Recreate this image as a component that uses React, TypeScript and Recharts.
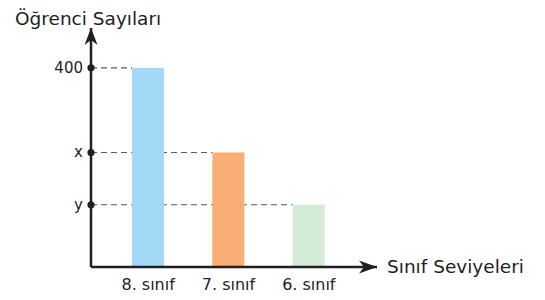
import React from "react";
import { BarChart, Bar, XAxis, YAxis } from "recharts";

const categories = ["8. sınıf", "7. sınıf", "6. sınıf"];
const students = [400, 230, 125];
const barColors = ["#a2d9f6", "#f8ae74", "#d4ebd6"];
const yTickValues = [400, 230, 125];
const yTickLabels = ["400", "x", "y"];

const data = categories.map((name, i) => ({ name, value: students[i], color: barColors[i] }));

const W = 545;
const H = 300;
const MARGIN = { top: 28, right: 168, bottom: 3, left: 0 };
const Y_AXIS_W = 91;
const PLOT_LEFT = MARGIN.left + Y_AXIS_W;
const INK = "#231f20";
const FONT = "'DejaVu Sans', sans-serif";

const YTick = (props: any) => {
  const { x, y, payload } = props;
  const i = yTickValues.indexOf(payload.value);
  return (
    <g>
      <circle cx={x} cy={y} r={3.6} fill={INK} />
      <text x={x - 8} y={y + 5} textAnchor="end" fontSize={15} fill={INK} fontFamily={FONT}>
        {i >= 0 ? yTickLabels[i] : payload.value}
      </text>
    </g>
  );
};

const XTick = (props: any) => {
  const { x, y, payload } = props;
  return (
    <text x={x} y={y + 23} textAnchor="middle" fontSize={16} fill={INK} fontFamily={FONT}>
      {payload.value}
    </text>
  );
};

const YTitle = (props: any) => {
  const vb = props.viewBox;
  const ax = vb.x + vb.width;
  const top = vb.y;
  return (
    <g>
      <path d={`M${ax},${top} L${ax - 6.5},${top + 17} L${ax},${top + 12} L${ax + 6.5},${top + 17} Z`} fill={INK} />
      <text x={vb.x + 15} y={top - 3} fontSize={18.5} fill={INK} fontFamily={FONT}>
        Öğrenci Sayıları
      </text>
    </g>
  );
};

const XTitle = (props: any) => {
  const vb = props.viewBox;
  const tip = vb.x + vb.width;
  const ay = vb.y;
  return (
    <g>
      <path d={`M${tip},${ay} L${tip - 18},${ay - 6.5} L${tip - 13},${ay} L${tip - 18},${ay + 6.5} Z`} fill={INK} />
      <text x={tip + 10} y={ay + 6} fontSize={18.5} fill={INK} fontFamily={FONT}>
        Sınıf Seviyeleri
      </text>
    </g>
  );
};

// dashed guide from the y axis to the left edge of each bar
const GuideShape = (props: any) => {
  const { x, y } = props;
  return <line x1={PLOT_LEFT} y1={y} x2={x} y2={y} stroke="#5a5a5a" strokeWidth={1.2} strokeDasharray="6 4" />;
};

const BarShape = (props: any) => {
  const { x, y, width, height, payload } = props;
  return <rect x={x} y={y} width={width} height={height} fill={payload.color} />;
};

export default function App() {
  return (
    <div style={{ position: "fixed", left: 0, top: 0, width: W, height: H, background: "#fff" }}>
      <BarChart width={W} height={H} data={data} margin={MARGIN}>
        <XAxis
          xAxisId="guide"
          dataKey="name"
          orientation="top"
          height={0}
          hide
          padding={{ left: 17, right: 28 }}
        />
        <XAxis
          xAxisId="main"
          dataKey="name"
          height={30}
          padding={{ left: 17, right: 28 }}
          axisLine={{ stroke: INK, strokeWidth: 2.5 }}
          tickLine={false}
          tickSize={0}
          tickMargin={0}
          tick={<XTick />}
          label={XTitle}
        />
        <YAxis
          width={Y_AXIS_W}
          domain={[0, 480]}
          ticks={yTickValues}
          axisLine={{ stroke: INK, strokeWidth: 2.5 }}
          tickLine={false}
          tickSize={0}
          tickMargin={0}
          tick={<YTick />}
          label={YTitle}
        />
        <Bar xAxisId="guide" dataKey="value" barSize={32} shape={<GuideShape />} isAnimationActive={false} />
        <Bar xAxisId="main" dataKey="value" barSize={32} shape={<BarShape />} isAnimationActive={false} />
      </BarChart>
    </div>
  );
}
